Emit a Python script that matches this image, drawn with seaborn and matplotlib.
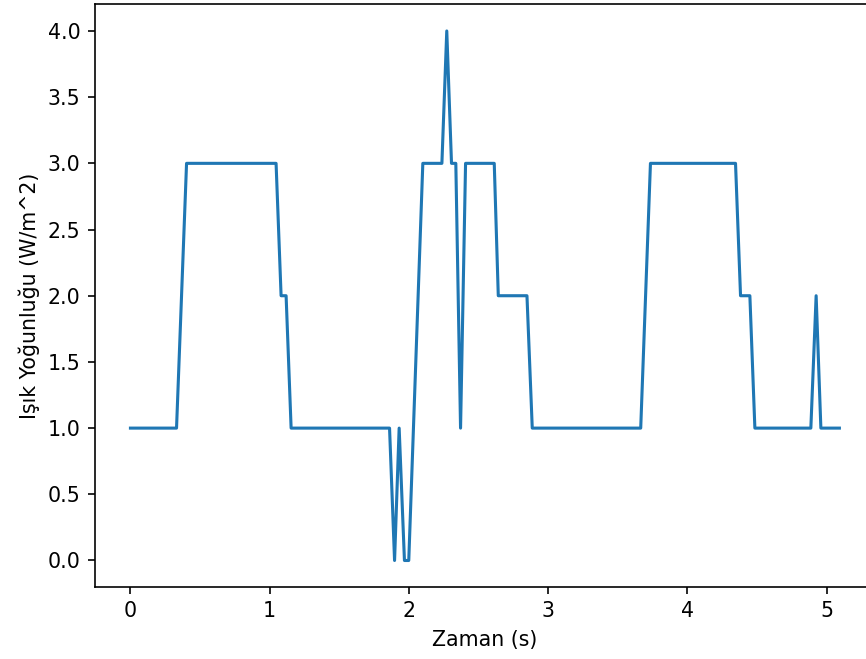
import matplotlib
matplotlib.use("Agg")
import matplotlib.pyplot as plt
import seaborn as sns
import pandas as pd

# Breakpoints (time in s, light intensity in W/m^2)
zaman = [0.000, 0.331, 0.403, 1.046, 1.082, 1.118, 1.154,
         1.861, 1.897, 1.930, 1.968, 1.999, 2.100,
         2.237, 2.272, 2.306, 2.337, 2.371, 2.407,
         2.613, 2.642, 2.848, 2.886,
         3.665, 3.735, 4.346, 4.382, 4.449, 4.485,
         4.887, 4.925, 4.959, 5.092]
isik = [1, 1, 3, 3, 2, 2, 1,
        1, 0, 1, 0, 0, 3,
        3, 4, 3, 3, 1, 3,
        3, 2, 2, 1,
        1, 3, 3, 2, 2, 1,
        1, 2, 1, 1]

df = pd.DataFrame({"Zaman": zaman, "Isik": isik})

DPI = 148
fig = plt.figure(figsize=(866 / DPI, 659 / DPI), dpi=DPI)
ax = fig.add_axes([0.1097, 0.1093, 0.9005, 0.8839])
sns.lineplot(data=df, x="Zaman", y="Isik", ax=ax, estimator=None,
             sort=False, color="#1f77b4", linewidth=1.5)
ax.set_xlabel("Zaman (s)")
ax.set_ylabel("Işık Yoğunluğu (W/m^2)")
ax.set_yticks([0.0, 0.5, 1.0, 1.5, 2.0, 2.5, 3.0, 3.5, 4.0])
ax.set_xticks([0, 1, 2, 3, 4, 5])
fig.savefig("out.png", dpi=DPI)
